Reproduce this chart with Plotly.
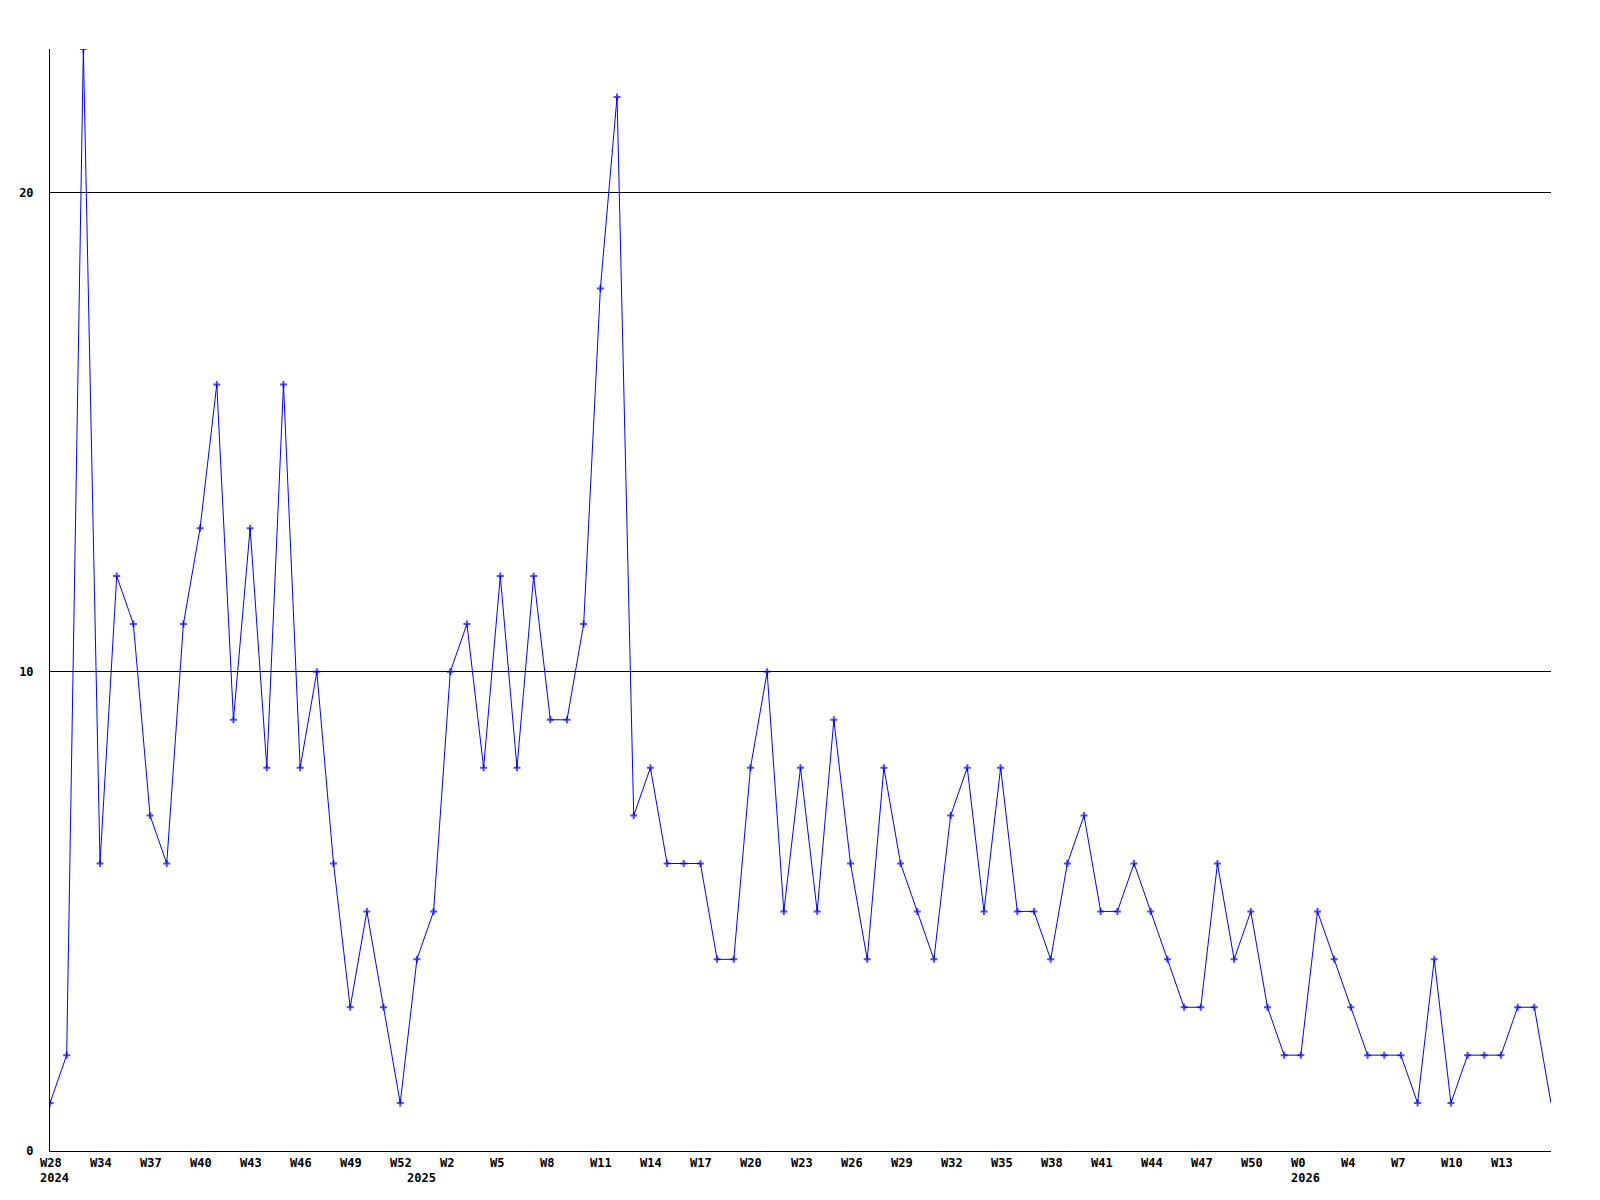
import plotly.graph_objects as go

# weekly counts, one per week from the first labelled week onwards
counts = [1, 2, 23, 6, 12, 11, 7, 6, 11, 13,
          16, 9, 13, 8, 16, 8, 10, 6, 3, 5,
          3, 1, 4, 5, 10, 11, 8, 12, 8, 12,
          9, 9, 11, 18, 22, 7, 8, 6, 6, 6,
          4, 4, 8, 10, 5, 8, 5, 9, 6, 4,
          8, 6, 5, 4, 7, 8, 5, 8, 5, 5,
          4, 6, 7, 5, 5, 6, 5, 4, 3, 3,
          6, 4, 5, 3, 2, 2, 5, 4, 3, 2,
          2, 2, 1, 4, 1, 2, 2, 2, 3, 3,
          1]

week_tick_pos = [0, 3, 6, 9, 12, 15, 18, 21, 24, 27, 30, 33, 36, 39, 42,
                 45, 48, 51, 54, 57, 60, 63, 66, 69, 72, 75, 78, 81, 84, 87]
week_tick_text = ["W28", "W34", "W37", "W40", "W43", "W46", "W49", "W52", "W2",
                  "W5", "W8", "W11", "W14", "W17", "W20", "W23", "W26", "W29",
                  "W32", "W35", "W38", "W41", "W44", "W47", "W50", "W0", "W4",
                  "W7", "W10", "W13"]
year_pos = [0, 22, 75]
year_text = ["2024", "2025", "2026"]

x = list(range(len(counts)))
label_font = dict(family="DejaVu Sans Mono", size=12, color="black", weight="bold")

# last point is drawn without a marker in the original
sizes = [5] * (len(counts) - 1) + [0]

fig = go.Figure()
fig.add_trace(go.Scatter(
    x=x, y=counts, mode="lines+markers",
    line=dict(color="#0000FF", width=1),
    marker=dict(symbol="cross-thin", size=sizes, color="#0000FF",
                line=dict(color="#0000FF", width=2)),
    showlegend=False, hoverinfo="skip",
))

annotations = []
for pos, txt in zip(week_tick_pos, week_tick_text):
    annotations.append(dict(
        x=pos, y=0, xref="x", yref="paper", text=txt, showarrow=False,
        xanchor="left", yanchor="top", xshift=-12, yshift=-3, font=label_font,
    ))
for pos, txt in zip(year_pos, year_text):
    annotations.append(dict(
        x=pos, y=0, xref="x", yref="paper", text=txt, showarrow=False,
        xanchor="left", yanchor="top", xshift=-12, yshift=-18, font=label_font,
    ))

# the page body adds 8px, so margins are trimmed to land the plot where the original is
fig.update_layout(
    width=1600, height=1200,
    paper_bgcolor="white", plot_bgcolor="white",
    margin=dict(l=42, r=57, t=41, b=57),
    annotations=annotations,
    xaxis=dict(
        range=[0, len(counts) - 1], showgrid=False, zeroline=False,
        showline=True, linecolor="black", linewidth=1,
        showticklabels=False, ticks="",
    ),
    yaxis=dict(
        range=[0, 23], tickvals=[0, 10, 20], ticktext=["0", "10", "20"],
        showgrid=True, gridcolor="black", gridwidth=1,
        zeroline=False, showline=True, linecolor="black", linewidth=1,
        ticks="outside", ticklen=13, tickcolor="rgba(0,0,0,0)",
        tickfont=label_font, automargin=False,
    ),
)

fig.write_html("out.html")
